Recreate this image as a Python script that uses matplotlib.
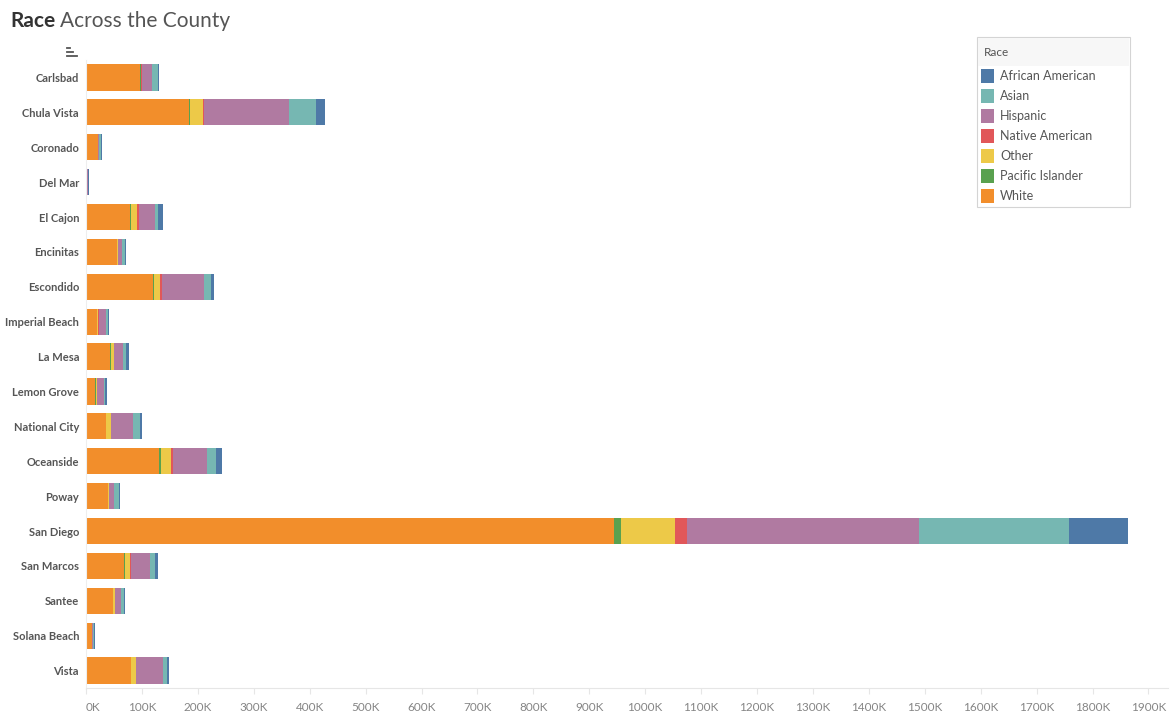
import matplotlib
matplotlib.use("Agg")
import matplotlib.pyplot as plt
from matplotlib.patches import Rectangle
from matplotlib.lines import Line2D
import numpy as np

# city names, top to bottom
cities = ["Carlsbad", "Chula Vista", "Coronado", "Del Mar", "El Cajon", "Encinitas",
          "Escondido", "Imperial Beach", "La Mesa", "Lemon Grove", "National City",
          "Oceanside", "Poway", "San Diego", "San Marcos", "Santee", "Solana Beach", "Vista"]

# population by race, thousands
white = [97, 185, 21.5, 2.5, 78.7, 55.5, 120, 19.7, 42.9, 16.1, 35.8, 130.6, 39.4, 944, 68, 48.3, 10.7, 80.5]
pacific = [1.2, 1.8, 0, 0, 1.8, 0, 1.8, 0, 1.8, 1.8, 0, 3.6, 0, 13, 1.8, 0, 0, 0]
other = [0.6, 23.3, 0, 0, 10.7, 1.8, 10.7, 1.2, 5.4, 1.8, 8.9, 17.9, 1.8, 97, 8.9, 3.6, 0, 8.9]
native = [1.2, 1.2, 0, 0, 3.6, 0, 3.6, 1.8, 0, 0, 0, 3.6, 0, 21, 1.2, 0, 0.3, 0]
hispanic = [18, 152.6, 2.4, 0.4, 28.6, 7.2, 75.1, 13.1, 16.1, 12.5, 39.4, 60.8, 8.9, 414, 34.6, 10.7, 1.5, 48.3]
asian = [10.7, 48.3, 2.4, 0.4, 5.4, 5.4, 12.5, 3.6, 5.4, 1.8, 12.5, 16.1, 8.9, 269, 8.9, 5.4, 1.5, 7.2]
african = [1.8, 16.1, 1.8, 1.8, 8.9, 1.8, 5.4, 1.8, 5.4, 3.6, 3.6, 10.7, 1.8, 106, 5.4, 1.8, 1.8, 3.6]

series = [("White", white, "#F28E2B"),
          ("Pacific Islander", pacific, "#59A14F"),
          ("Other", other, "#EDC948"),
          ("Native American", native, "#E15759"),
          ("Hispanic", hispanic, "#B07AA1"),
          ("Asian", asian, "#76B7B2"),
          ("African American", african, "#4E79A7")]

xticks = list(range(0, 2000, 100))
xticklabels = ["%dK" % t for t in xticks]

plt.rcParams['font.family'] = ['Lato', 'DejaVu Sans']

W, H = 1174, 720
fig = plt.figure(figsize=(W / 100, H / 100), dpi=100)
ax = fig.add_axes([86 / W, 1 - 688 / H, (1168 - 86) / W, (688 - 60) / H])

y = np.arange(len(cities))
left = np.zeros(len(cities))
for name, vals, col in series:
    v = np.array(vals, dtype=float)
    ax.barh(y, v, left=left, height=0.75, color=col, linewidth=0)
    left += v

ax.set_ylim(len(cities) - 0.5, -0.5)
ax.set_xlim(0, 1935)
ax.set_yticks(y)
ax.set_yticklabels(cities, fontsize=8, fontweight="bold", color="#555555")
ax.tick_params(axis="y", length=0, pad=5)
ax.set_xticks(xticks)
ax.set_xticklabels(xticklabels, fontsize=8.5, color="#858585")
ax.tick_params(axis="x", length=4, color="#e6e6e6", pad=6)
ax.get_xticklabels()[0].set_horizontalalignment("left")
for s in ["top", "right"]:
    ax.spines[s].set_visible(False)
ax.spines["left"].set_color("#eeeeee")
ax.spines["bottom"].set_color("#e6e6e6")

# title
t1 = fig.text(10 / W, 1 - 21 / H, "Race", fontsize=15, fontweight="bold", color="#333333", va="center")
fig.canvas.draw()
bb = t1.get_window_extent()
fig.text((bb.x1 + 5) / W, 1 - 21 / H, "Across the County", fontsize=15, color="#555555", va="center")

# little sort icon
for i, w in enumerate([3, 6, 10]):
    yy = 1 - (48 + i * 4) / H
    fig.add_artist(Line2D([67 / W, (67 + w) / W], [yy, yy], color="#555555", lw=1.3))

# legend box
fig.add_artist(Rectangle((977 / W, 1 - 207 / H), 153 / W, 170 / H, transform=fig.transFigure,
                         facecolor="white", edgecolor="#d4d4d4", lw=0.8))
fig.add_artist(Rectangle((978 / W, 1 - 66 / H), 151 / W, 28 / H, transform=fig.transFigure,
                         facecolor="#f7f7f7", edgecolor="none"))
fig.text(984 / W, 1 - 52 / H, "Race", fontsize=8.5, color="#555555", va="center")
for i, (name, vals, col) in enumerate(reversed(series)):
    cy = 76 + i * 20
    fig.add_artist(Rectangle((981 / W, 1 - (cy + 7) / H), 13 / W, 14 / H, transform=fig.transFigure,
                             facecolor=col, edgecolor="none"))
    fig.text(1000 / W, 1 - cy / H, name, fontsize=9, color="#555555", va="center")

fig.savefig("out.png", dpi=100)
